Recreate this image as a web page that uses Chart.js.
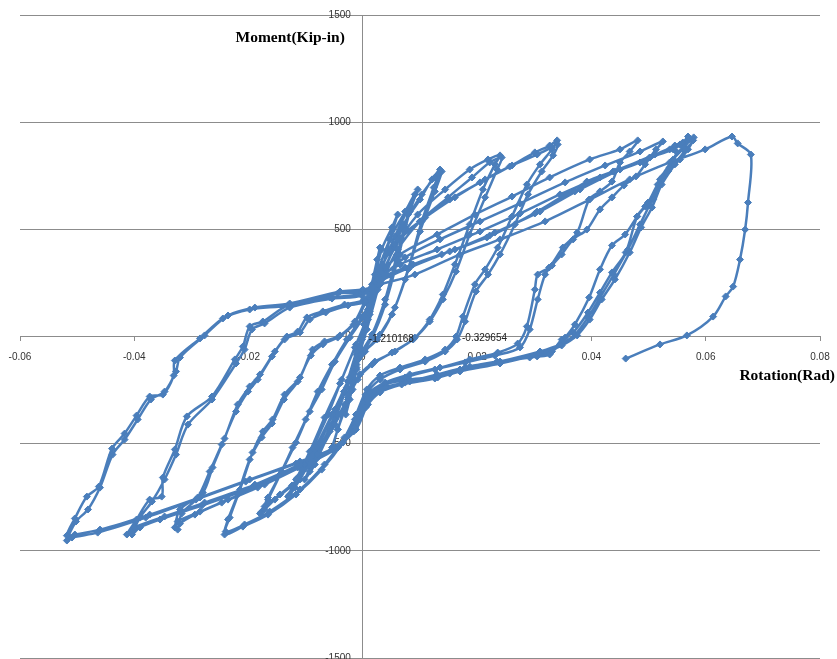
<!DOCTYPE html>
<html>
<head>
<meta charset="utf-8">
<script src="https://cdn.jsdelivr.net/npm/chart.js@4/dist/chart.umd.min.js"></script>
<style>
html,body{margin:0;padding:0;background:#fff;}
#wrap{width:837px;height:659px;position:relative;}
</style>
</head>
<body>
<div id="wrap"><canvas id="c"></canvas></div>
<script>
// Axis titles and tick labels
const xTitle = "Rotation(Rad)";
const yTitle = "Moment(Kip-in)";
const xTicks = [-0.06, -0.04, -0.02, 0, 0.02, 0.04, 0.06, 0.08];
const yTicks = [-1500, -1000, -500, 0, 500, 1000, 1500];

// Labelled data points (value labels shown in the chart)
const labelRot = [0, 0.0163];
const labelMom = [-1.210168, -0.329654];

// Hysteresis record, one array pair per cycle group (rotation in rad, moment in kip-in)
const rotStart = [0];
const momStart = [-1.210168];

const rotE1 = [0.0009,0.0016,0.0009,-0.0002,-0.0011,-0.0018,-0.0011,-0.0002];
const momE1 = [126,243,149,-14,-154,-247,-145,-14];

const rotE2 = [0.0012,0.0025,0.003,0.0021,0.0004,-0.0011,-0.0023,-0.003,-0.0021,-0.0009,0.0002];
const momE2 = [196,359,415,289,56,-131,-294,-364,-257,-84,56];

const rotE3 = [0.0016,0.0033,0.0051,0.0061,0.0047,0.0026,0.0007,-0.0009,-0.0026,-0.0044,-0.0054,-0.0044,-0.0026,-0.0009,0.0005];
const momE3 = [219,406,509,569,453,219,33,-107,-271,-434,-518,-434,-294,-107,79];

const rotE4 = [0.0021,0.0047,0.0074,0.0091,0.0079,0.006,0.0039,0.0016,-0.0005,-0.0023,-0.0049,-0.0079,-0.0093,-0.0079,-0.0054,-0.0032,-0.0011,0.0009];
const momE4 = [257,453,583,663,569,383,173,9,-84,-201,-387,-565,-630,-551,-411,-257,-84,79];

const rotE5 = [0.0026,0.0056,0.0079,0.0096,0.0082,0.0061,0.0039,0.0016,-0.0009,-0.0028,-0.0058,-0.0084,-0.0102,-0.0086,-0.0058,-0.0033,-0.0011,0.0012];
const momE5 = [266,467,593,686,583,359,149,-5,-107,-238,-434,-597,-667,-583,-425,-257,-70,103];

const rotE6 = [0.0039,0.0068,0.01,0.0121,0.0135,0.0124,0.0103,0.0079,0.0056,0.003,0.0004,-0.0023,-0.0049,-0.0079,-0.011,-0.0128,-0.0114,-0.0089,-0.0061,-0.0037,-0.0012,0.0012];
const momE6 = [313,509,639,733,779,695,537,313,135,9,-70,-191,-341,-518,-667,-737,-658,-527,-364,-201,-37,117];

const rotE7 = [0.004,0.0072,0.0103,0.0126,0.0138,0.0126,0.01,0.0074,0.0051,0.0025,-0.0002,-0.0026,-0.0054,-0.0089,-0.0119,-0.0131,-0.0117,-0.0093,-0.0067,-0.004,-0.0014,0.0009];
const momE7 = [322,523,663,742,770,677,490,266,103,-14,-84,-210,-364,-551,-705,-747,-667,-537,-378,-219,-51,98];

const rotA1 = [0.0026,0.0056,0.0096,0.0144,0.0187,0.0219,0.024,0.0231,0.021,0.0187,0.0161,0.014,0.0117,0.0091,0.0056,0.0021,-0.0005,-0.0026,-0.0049,-0.0079,-0.0114,-0.0145,-0.0172,-0.0177,-0.0166,-0.0145,-0.0123,-0.01,-0.0079,-0.0054,-0.0028,-0.0002];
const momA1 = [243,415,569,686,779,826,845,803,686,523,336,196,79,-5,-70,-117,-177,-285,-411,-551,-667,-737,-793,-817,-751,-644,-518,-387,-257,-131,-14,89];

const rotA2 = [0.003,0.0061,0.01,0.0149,0.0191,0.0222,0.0243,0.0235,0.0214,0.0187,0.0163,0.014,0.0117,0.0088,0.0051,0.0016,-0.0009,-0.0032,-0.0058,-0.0089,-0.0124,-0.0154,-0.0172,-0.018,-0.0166,-0.0142,-0.0117,-0.0093,-0.0072,-0.0049,-0.0023,0.0002];
const momA2 = [243,406,537,649,742,812,835,779,649,476,303,173,70,-14,-75,-131,-201,-317,-443,-583,-695,-761,-807,-826,-761,-630,-495,-350,-247,-117,-5,98];

const rotB1 = [0.0026,0.0056,0.01,0.0152,0.0205,0.0257,0.0301,0.0327,0.034,0.0331,0.031,0.0287,0.0261,0.0236,0.0214,0.0196,0.0175,0.0163,0.0144,0.0109,0.0065,0.003,0.0007,-0.0012,-0.0032,-0.0067,-0.011,-0.0163,-0.0207,-0.024,-0.0233,-0.0215,-0.0193,-0.0175,-0.0158,-0.0137,-0.011,-0.0088,-0.0067,-0.004,-0.0014,0.0005];
const momB1 = [289,429,537,639,719,793,859,891,915,873,803,709,560,415,313,243,93,-0.329654,-61,-107,-145,-182,-247,-364,-471,-597,-714,-817,-877,-910,-845,-714,-541,-443,-387,-271,-191,-61,-23,5,70,173];

const rotB2 = [0.003,0.0061,0.0109,0.0161,0.0214,0.0261,0.0305,0.0331,0.0341,0.0333,0.0313,0.0289,0.0266,0.024,0.0219,0.0198,0.0179,0.0165,0.0144,0.0109,0.0065,0.003,0.0005,-0.0014,-0.0035,-0.0072,-0.0117,-0.0166,-0.021,-0.0242,-0.0236,-0.0219,-0.0198,-0.0177,-0.0159,-0.0138,-0.0114,-0.0091,-0.007,-0.0044,-0.0016,0.0005];
const momB2 = [313,453,555,649,733,798,849,882,896,845,770,663,523,383,289,210,70,-14,-70,-117,-154,-201,-271,-387,-495,-621,-737,-831,-887,-924,-854,-737,-574,-471,-406,-294,-210,-89,-37,-5,56,159];

const rotC1 = [0.0026,0.0065,0.013,0.0196,0.0261,0.0327,0.0397,0.045,0.0481,0.0467,0.045,0.0436,0.0415,0.0396,0.0375,0.035,0.0326,0.0306,0.0301,0.0287,0.0271,0.0236,0.0187,0.0135,0.0082,0.0039,0.0012,-0.0012,-0.004,-0.0102,-0.0172,-0.0236,-0.0285,-0.0324,-0.0329,-0.032,-0.028,-0.0263,-0.0242,-0.0219,-0.0198,-0.018,-0.0154,-0.0133,-0.0114,-0.0098,-0.007,-0.0032,0.0002];
const momC1 = [275,383,476,569,653,742,826,873,915,863,812,723,677,639,485,415,322,289,219,47,-33,-75,-107,-145,-177,-215,-261,-387,-504,-597,-691,-761,-817,-863,-891,-807,-728,-611,-476,-317,-233,-177,-70,0,23,89,117,149,173];

const rotC2 = [0.003,0.0074,0.0135,0.0205,0.0275,0.0354,0.0424,0.0485,0.0525,0.0513,0.0494,0.0478,0.0457,0.0436,0.0415,0.0392,0.0368,0.0348,0.0331,0.0319,0.0306,0.0292,0.0275,0.0231,0.0179,0.0126,0.0074,0.0033,0.0007,-0.0014,-0.0044,-0.011,-0.0184,-0.0247,-0.0294,-0.032,-0.0324,-0.0317,-0.0289,-0.0268,-0.0247,-0.0222,-0.0201,-0.0184,-0.0159,-0.0137,-0.011,-0.0093,-0.0065,-0.0026,0.0004];
const momC2 = [266,369,453,537,621,719,798,863,910,873,803,747,705,649,593,499,453,383,331,289,173,33,-51,-89,-121,-154,-191,-233,-294,-411,-518,-611,-705,-775,-831,-873,-901,-826,-751,-630,-504,-350,-257,-201,-93,-14,19,79,112,145,163];

const rotD1 = [0.0023,0.0065,0.013,0.0205,0.0275,0.0345,0.0415,0.0485,0.0537,0.056,0.0569,0.056,0.055,0.0537,0.0525,0.0508,0.0494,0.048,0.046,0.0436,0.0415,0.0394,0.0368,0.0348,0.0327,0.0305,0.024,0.0187,0.0152,0.0131,0.0082,0.0039,0.0009,-0.0012,-0.004,-0.011,-0.0189,-0.0277,-0.0347,-0.0399,-0.0413,-0.0396,-0.0373,-0.0352,-0.035,-0.0329,-0.0308,-0.0264,-0.0224,-0.021,-0.0198,-0.0175,-0.0131,-0.0058,-0.0002];
const momD1 = [257,336,406,490,574,663,742,812,873,905,933,873,859,789,747,639,607,560,392,299,205,112,19,-14,-84,-93,-117,-140,-173,-187,-201,-224,-285,-411,-504,-597,-691,-775,-840,-891,-924,-854,-761,-747,-658,-527,-373,-280,-107,-47,47,70,145,182,201];

const rotD2 = [0.0026,0.0074,0.0138,0.0217,0.0305,0.0392,0.0438,0.0502,0.0543,0.0579,0.0569,0.0555,0.0534,0.0516,0.0499,0.048,0.0459,0.0436,0.0415,0.0396,0.0371,0.0354,0.0331,0.0292,0.0235,0.0179,0.013,0.0082,0.0039,0.0009,-0.0014,-0.0044,-0.0114,-0.0194,-0.0282,-0.0355,-0.039,-0.0404,-0.039,-0.0369,-0.0347,-0.0327,-0.0306,-0.0264,-0.0222,-0.0207,-0.0194,-0.0172,-0.0128,-0.0054,-0.0002];
const momD2 = [266,322,383,462,583,723,770,835,873,929,873,826,770,709,625,560,476,425,313,182,56,-5,-70,-98,-117,-145,-177,-210,-238,-294,-425,-518,-611,-705,-789,-854,-891,-924,-845,-770,-667,-551,-411,-294,-126,-61,33,61,135,177,191];

const rotF1 = [0.003,0.0082,0.0152,0.0222,0.0301,0.0371,0.0441,0.0502,0.0546,0.0572,0.0562,0.0543,0.052,0.0502,0.0485,0.0464,0.0439,0.0415,0.0394,0.0371,0.0345,0.031,0.024,0.017,0.0131,0.0074,0.0033,0.0009,-0.0012,-0.0049,-0.011,-0.0198,-0.0285,-0.0373,-0.046,-0.0504,-0.0518,-0.0504,-0.0483,-0.0462,-0.0439,-0.0417,-0.0396,-0.0373,-0.035,-0.0331,-0.0329,-0.0285,-0.0245,-0.0198,-0.0131,-0.0044,-0.0002];
const momF1 = [257,322,397,471,574,677,770,835,891,919,882,826,733,616,523,406,289,182,89,9,-37,-70,-117,-154,-191,-215,-247,-317,-434,-518,-583,-667,-751,-831,-901,-924,-929,-849,-747,-700,-523,-453,-369,-280,-271,-182,-112,-9,84,126,145,201,210];

const rotF2 = [0.0033,0.0088,0.0161,0.0231,0.031,0.038,0.045,0.0511,0.0555,0.0578,0.0565,0.0546,0.0523,0.0506,0.0487,0.0467,0.0441,0.0418,0.0397,0.0375,0.0348,0.031,0.024,0.017,0.0126,0.0068,0.003,0.0005,-0.0016,-0.0054,-0.0117,-0.0205,-0.0292,-0.038,-0.0464,-0.0509,-0.0518,-0.0502,-0.0481,-0.046,-0.0438,-0.0417,-0.0394,-0.0371,-0.0347,-0.0327,-0.032,-0.0277,-0.0236,-0.0189,-0.0128,-0.004,0];
const momF2 = [266,336,406,485,583,686,779,849,896,915,873,803,709,602,509,392,266,173,79,5,-42,-79,-126,-163,-196,-224,-261,-331,-443,-527,-593,-677,-761,-845,-915,-938,-952,-863,-807,-705,-551,-481,-387,-294,-257,-163,-98,5,98,135,154,210,219];

const rotFinal = [0.003,0.0091,0.017,0.024,0.0319,0.0397,0.0467,0.0537,0.0599,0.0646,0.0656,0.0679,0.0674,0.0669,0.066,0.0648,0.0635,0.0613,0.0567,0.052,0.046];
const momFinal = [243,289,383,453,537,639,733,812,873,933,901,849,625,499,359,233,187,93,5,-37,-103];

const rotGroups = [rotStart,rotE1,rotE2,rotE3,rotE4,rotE5,rotE6,rotE7,rotA1,rotA2,rotB1,rotB2,rotC1,rotC2,rotD1,rotD2,rotF1,rotF2,rotFinal];
const momGroups = [momStart,momE1,momE2,momE3,momE4,momE5,momE6,momE7,momA1,momA2,momB1,momB2,momC1,momC2,momD1,momD2,momF1,momF2,momFinal];

const points = [];
rotGroups.forEach((r, g) => {
  r.forEach((v, i) => points.push({x: v, y: momGroups[g][i]}));
});

const lineColor = '#4A7EBB';
const gridColor = '#8C8C8C';

const annotate = {
  id: 'annotate',
  afterDraw(chart) {
    const {ctx, scales: {x, y}, chartArea} = chart;
    ctx.save();
    ctx.fillStyle = '#000';
    ctx.font = 'bold 15.5px "Liberation Serif"';
    ctx.textAlign = 'right';
    ctx.textBaseline = 'middle';
    ctx.fillText(yTitle, x.getPixelForValue(0) - 18, y.getPixelForValue(1393));
    ctx.fillText(xTitle, chartArea.right + 15, y.getPixelForValue(-184));
    ctx.font = '10px "Liberation Sans"';
    ctx.fillStyle = '#222';
    ctx.textAlign = 'left';
    labelRot.forEach((r, i) => {
      ctx.fillText(String(labelMom[i]), x.getPixelForValue(r) + 6, y.getPixelForValue(labelMom[i]) + 2);
    });
    ctx.restore();
  }
};

const noPad = s => { s.paddingTop = 0; s.paddingBottom = 0; s.paddingLeft = 0; s.paddingRight = 0; };

new Chart(document.getElementById('c'), {
  type: 'scatter',
  data: {
    datasets: [{
      data: points,
      showLine: true,
      borderColor: lineColor,
      backgroundColor: lineColor,
      borderWidth: 2.5,
      tension: 0.3,
      pointStyle: 'rectRot',
      pointRadius: 3.5,
      pointHoverRadius: 3.5,
      pointBorderWidth: 1
    }]
  },
  options: {
    responsive: true,
    maintainAspectRatio: false,
    animation: false,
    layout: {autoPadding: false, padding: {left: 20, right: 17, top: 15, bottom: 1}},
    plugins: {legend: {display: false}, tooltip: {enabled: false}},
    scales: {
      x: {
        type: 'linear',
        min: xTicks[0],
        max: xTicks[xTicks.length - 1],
        position: {y: 0},
        afterFit: noPad,
        afterBuildTicks: s => { s.ticks = xTicks.map(v => ({value: v})); },
        ticks: {
          autoSkip: false, maxRotation: 0,
          padding: 11,
          color: '#333',
          font: {family: '"Liberation Sans"', size: 10},
          callback: v => (Math.abs(v) < 1e-9 ? '0' : v.toFixed(2))
        },
        grid: {drawOnChartArea: false, drawTicks: true, tickLength: 4, color: gridColor},
        border: {color: gridColor, width: 1}
      },
      y: {
        type: 'linear',
        min: yTicks[0],
        max: yTicks[yTicks.length - 1],
        position: {x: 0},
        afterFit: noPad,
        afterBuildTicks: s => { s.ticks = yTicks.map(v => ({value: v})); },
        ticks: {
          autoSkip: false,
          color: '#333',
          font: {family: '"Liberation Sans"', size: 10},
          callback: v => String(v) + '\u2002\u2002\u2009'
        },
        grid: {color: gridColor, drawTicks: false},
        border: {color: gridColor, width: 1}
      }
    }
  },
  plugins: [annotate]
});
</script>
</body>
</html>
